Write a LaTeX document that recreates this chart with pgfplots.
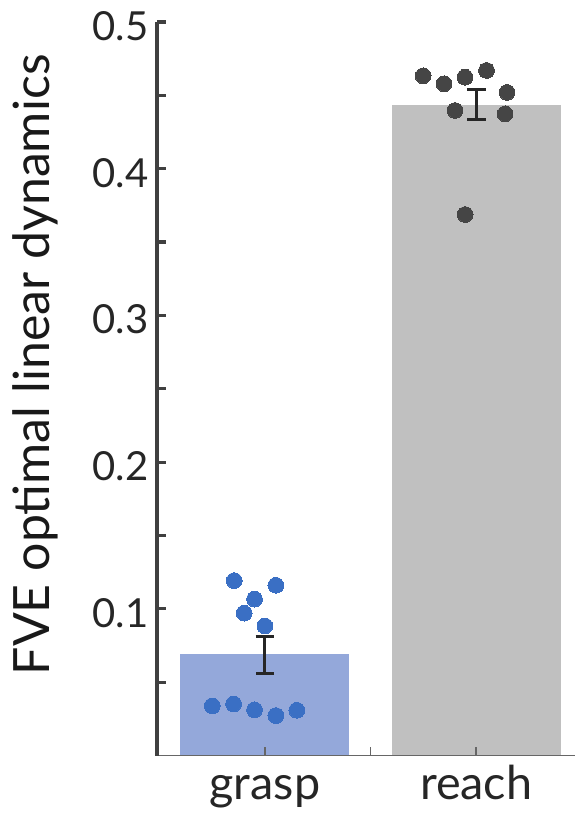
\documentclass[border=0pt]{standalone}
\usepackage{fontspec}
\setmainfont{Lato}
\usepackage{pgfplots}
\pgfplotsset{compat=1.18}
\definecolor{graspbar}{HTML}{94A8DA}
\definecolor{graspdot}{HTML}{3A6FC4}
\definecolor{reachbar}{HTML}{C0C0C0}
\definecolor{reachdot}{HTML}{454545}
\definecolor{axcol}{HTML}{404040}
\begin{document}
\begin{tikzpicture}
\begin{axis}[
  name=ax,
  scale only axis,
  width=313.5bp, height=549.75bp,
  xmin=-0.51, xmax=1.47,
  ymin=0, ymax=0.5,
  axis on top,
  axis x line*=bottom, axis y line*=left,
  x axis line style={color=axcol!80, line width=1.3bp},
  y axis line style={color=axcol, line width=3.4bp},
  tick align=inside,
  major tick length=6.8bp,
  xtick={0,0.5,1},
  xticklabels={grasp,,reach},
  xtick style={color=axcol!80, line width=1.1bp},
  ytick={0.05,0.1,0.15,0.2,0.25,0.3,0.35,0.4,0.45,0.5},
  yticklabels={,0.1,,0.2,,0.3,,0.4,,0.5},
  ytick style={color=axcol, line width=2.4bp},
  every tick label/.append style={font=\fontsize{30bp}{36bp}\selectfont, color=black!85},
  yticklabel style={xshift=-3bp, yshift=-3bp},
  xticklabel style={anchor=base, yshift=-33bp, font=\fontsize{35bp}{40bp}\selectfont},
  ylabel={FVE optimal linear dynamics},
  ylabel style={at={(axis description cs:0,0.5)}, anchor=base, xshift=18bp, yshift=81bp, font=\fontsize{37.5bp}{42bp}\selectfont, color=black!90},
  clip=false,
]
% bars
\addplot[ybar, bar width=0.8, bar shift=0pt, fill=graspbar, draw=none] coordinates {(0,0.0693)};
\addplot[ybar, bar width=0.8, bar shift=0pt, fill=reachbar, draw=none] coordinates {(1,0.4434)};
% dots
\addplot[only marks, mark=*, mark size=5.9bp, mark options={fill=graspdot, draw=graspdot, line width=0pt}] coordinates {
(-0.249,0.0339) (-0.148,0.0352) (-0.049,0.0312) (0.052,0.0273) (0.151,0.0309)
(-0.145,0.1193) (0.052,0.1161) (-0.049,0.1066) (-0.098,0.0971) (0.0,0.0884)
};
\addplot[only marks, mark=*, mark size=5.9bp, mark options={fill=reachdot, draw=reachdot, line width=0pt}] coordinates {
(0.749,0.4633) (0.848,0.4579) (0.947,0.4624) (1.049,0.4670) (1.146,0.4520)
(0.900,0.4397) (1.137,0.4374) (0.948,0.3688)
};
% error bars
\addplot[mark=none, draw=none,
  error bars/.cd, y dir=both, y explicit,
  error bar style={line width=2.2bp, draw=black!85},
  error mark options={rotate=90, mark size=7bp, line width=2.2bp, draw=black!85}]
  coordinates {(0,0.0685) +- (0,0.0125) (1,0.4436) +- (0,0.0103)};
\end{axis}
\pgfresetboundingbox
\path[use as bounding box] ([xshift=-117.75bp,yshift=-44.5bp]ax.south west) rectangle ([yshift=16.5bp]ax.north east);
\end{tikzpicture}
\end{document}
